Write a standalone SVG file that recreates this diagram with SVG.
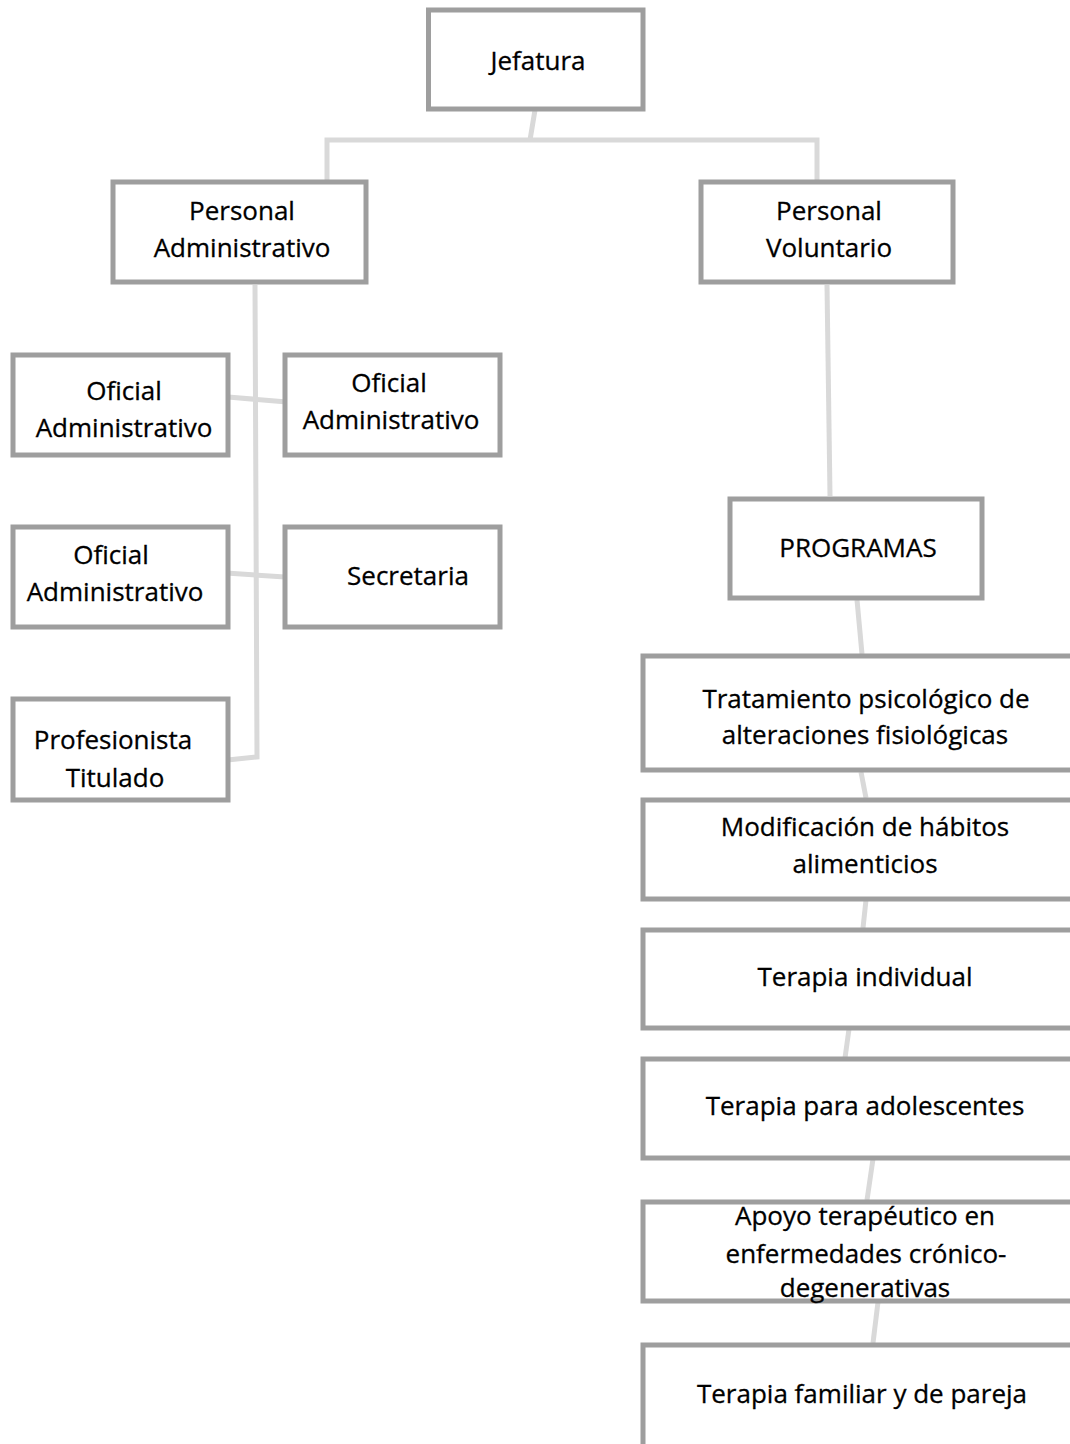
<svg xmlns="http://www.w3.org/2000/svg" width="1070" height="1444" viewBox="0 0 1070 1444">
<style>
.box{fill:#fff;stroke:#9e9e9e;stroke-width:5}
.c{fill:none;stroke:#d9d9d9;stroke-width:5}
text{font-family:"Open Sans","Liberation Sans",sans-serif;font-size:26px;fill:#000;text-anchor:middle;stroke:#000;stroke-width:0.3}
</style>
<rect width="1070" height="1444" fill="#fff"/>
<g id="connectors">
<path class="c" d="M535,110 L530,140 M327,182 L327,140 L817,140 L817,182"/>
<path class="c" d="M255,285 L257,757 L218,761"/>
<path class="c" d="M228,397 L287,402"/>
<path class="c" d="M226,573 L285,577"/>
<path class="c" d="M827,285 L830,496"/>
<path class="c" d="M857,600 L862,654"/>
<path class="c" d="M861,772 L866,798"/>
<path class="c" d="M866,900 L863,928"/>
<path class="c" d="M849,1029 L845,1058"/>
<path class="c" d="M873,1159 L867,1200"/>
<path class="c" d="M878,1302 L873,1343"/>
</g>
<g id="jefatura"><rect class="box" x="428.5" y="10" width="214.5" height="99"/><text x="538" y="70">Jefatura</text></g>
<g id="personal-administrativo"><rect class="box" x="113" y="182" width="253" height="100"/><text x="242" y="220">Personal</text><text x="242" y="257">Administrativo</text></g>
<g id="personal-voluntario"><rect class="box" x="701" y="182" width="252" height="100"/><text x="829" y="220">Personal</text><text x="829" y="257">Voluntario</text></g>
<g id="oficial-1"><rect class="box" x="13" y="355" width="215" height="100"/><text x="124" y="400">Oficial</text><text x="124" y="437">Administrativo</text></g>
<g id="oficial-2"><rect class="box" x="285" y="355" width="215" height="100"/><text x="389" y="392">Oficial</text><text x="391" y="429">Administrativo</text></g>
<g id="oficial-3"><rect class="box" x="13" y="527" width="215" height="100"/><text x="111" y="564">Oficial</text><text x="115" y="601">Administrativo</text></g>
<g id="secretaria"><rect class="box" x="285" y="527" width="215" height="100"/><text x="408" y="585">Secretaria</text></g>
<g id="profesionista"><rect class="box" x="13" y="699" width="215" height="101"/><text x="113" y="749">Profesionista</text><text x="115" y="787">Titulado</text></g>
<g id="programas"><rect class="box" x="730" y="499" width="252" height="99"/><text x="858" y="557">PROGRAMAS</text></g>
<g id="tratamiento"><rect class="box" x="643" y="656" width="440" height="114"/><text x="866" y="708">Tratamiento psicológico de</text><text x="865" y="744">alteraciones fisiológicas</text></g>
<g id="modificacion"><rect class="box" x="643" y="800" width="440" height="99"/><text x="865" y="836">Modificación de hábitos</text><text x="865" y="873">alimenticios</text></g>
<g id="terapia-individual"><rect class="box" x="643" y="930" width="440" height="98"/><text x="865" y="986">Terapia individual</text></g>
<g id="terapia-adolescentes"><rect class="box" x="643" y="1059" width="440" height="99"/><text x="865" y="1115">Terapia para adolescentes</text></g>
<g id="apoyo"><rect class="box" x="643" y="1202" width="440" height="99"/><text x="865" y="1225">Apoyo terapéutico en</text><text x="866" y="1263">enfermedades crónico-</text><text x="865" y="1297">degenerativas</text></g>
<g id="terapia-familiar"><rect class="box" x="643" y="1345" width="440" height="120"/><text x="862" y="1403">Terapia familiar y de pareja</text></g>
</svg>
